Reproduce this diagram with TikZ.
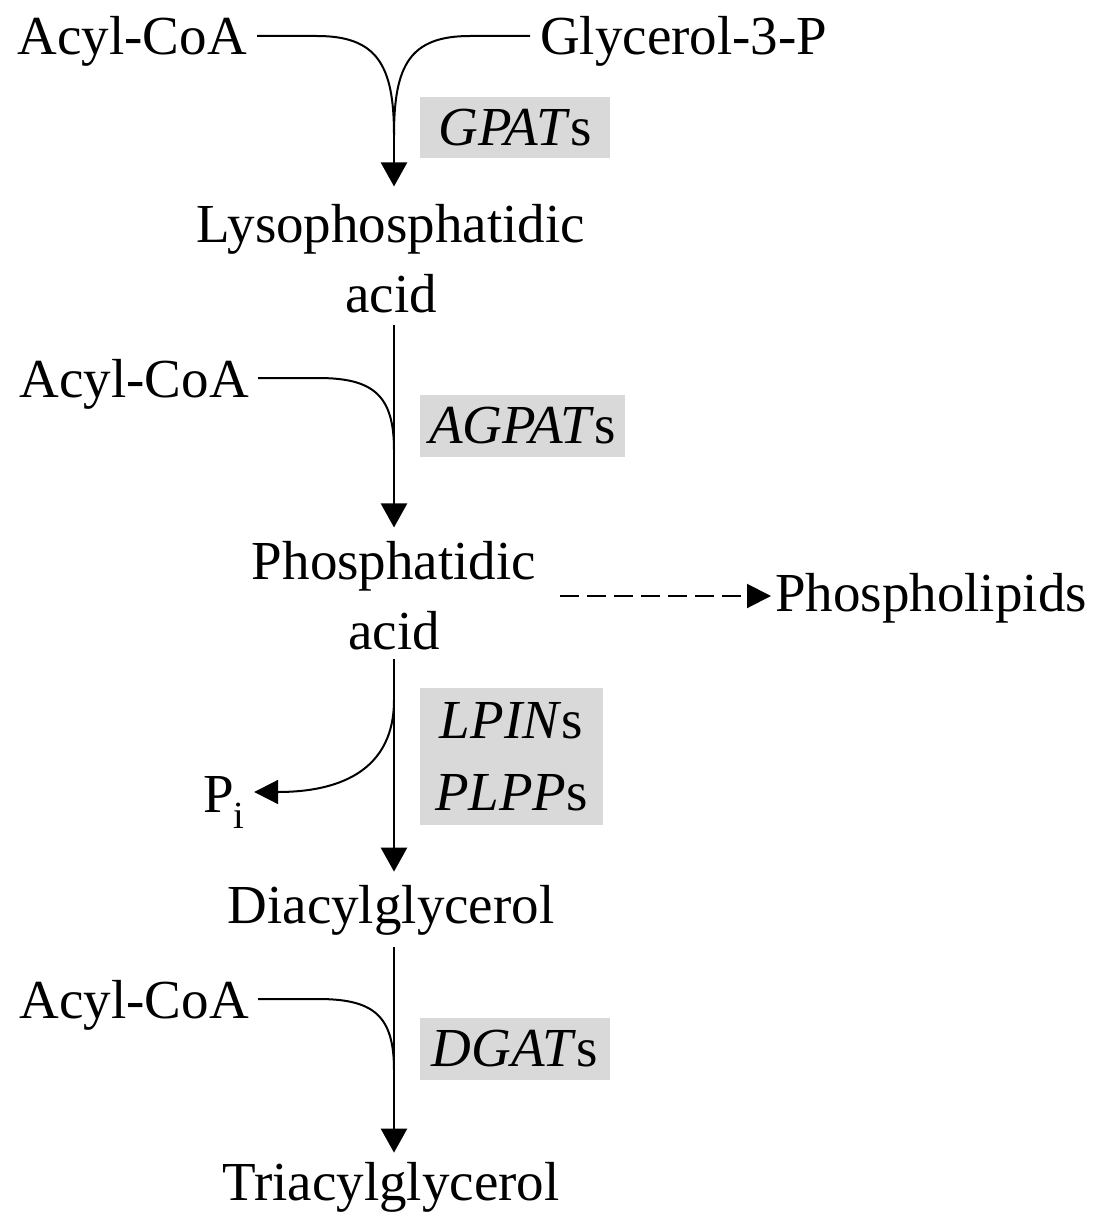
\documentclass[tikz,border=0pt]{standalone}
\usepackage{fontspec}
\setmainfont{Liberation Serif}
\usetikzlibrary{arrows.meta}
\begin{document}
\begin{tikzpicture}[x=1pt,y=-1pt,
    mol/.style={font=\fontsize{55}{70}\selectfont,inner sep=0pt,align=center},
    enz/.style={fill=gray!30,font=\fontsize{55}{72}\selectfont,inner sep=0pt,align=center},
    flow/.style={line width=2.5pt,-{Triangle[length=24pt,width=26pt]}},
    feed/.style={line width=2pt}]
  \useasboundingbox (0,0) rectangle (1102,1225);
  % metabolites
  \node[mol,anchor=base east] (acyl1) at (247,55) {Acyl-CoA};
  \node[mol,anchor=base west] (g3p) at (540,55) {Glycerol-3-P};
  \node[mol] (lpa) at (391,259) {Lysophosphatidic\\acid};
  \node[mol,anchor=base east] (acyl2) at (249,397) {Acyl-CoA};
  \node[mol] (pa) at (394,596) {Phosphatidic\\acid};
  \node[mol,anchor=base west] (pl) at (775,611) {Phospholipids};
  \node[mol,anchor=base west] (pi) at (203,812) {P\textsubscript{i}};
  \node[mol,anchor=base] (dag) at (391,923) {Diacylglycerol};
  \node[mol,anchor=base east] (acyl3) at (249,1018) {Acyl-CoA};
  \node[mol,anchor=base] (tag) at (391,1200) {Triacylglycerol};
  % enzymes
  \node[enz,minimum width=190pt,minimum height=61pt] (gpat) at (515,127.5) {\textit{GPAT}s};
  \node[enz,minimum width=205pt,minimum height=62pt] (agpat) at (522.5,426) {\textit{AGPAT}s};
  \node[enz,minimum width=183pt,minimum height=137pt] (lpin) at (511.5,756.5) {\textit{LPIN}s\\\textit{PLPP}s};
  \node[enz,minimum width=190pt,minimum height=62pt] (dgat) at (515,1049) {\textit{DGAT}s};
  % reactions
  \coordinate (m1) at (394,135);
  \coordinate (m2) at (394,450);
  \coordinate (m3) at (394,700);
  \coordinate (m4) at (394,1070);
  \draw[feed] ([xshift=10pt,yshift=19pt]acyl1.base east) -- ++(60,0) .. controls +(60,0) and +(0,-70) .. (m1);
  \draw[feed] ([xshift=-10pt,yshift=19pt]g3p.base west) -- ++(-60,0) .. controls +(-60,0) and +(0,-70) .. (m1);
  \draw[flow,shorten >=18pt] (m1) -- (m1 |- lpa.north);
  \draw[flow,shorten <=11pt,shorten >=14pt] (lpa.south -| m2) -- (pa.north -| m2);
  \draw[feed] ([xshift=9pt,yshift=19pt]acyl2.base east) -- ++(60,0) .. controls +(55,0) and +(0,-55) .. (m2);
  \draw[flow,shorten <=8pt,shorten >=13pt] (pa.south -| m3) -- (dag.north -| m3);
  \draw[feed,-{Triangle[length=24pt,width=24pt]}] (m3) .. controls +(0,80) and +(70,0) .. ([xshift=9pt,yshift=20pt]pi.base east);
  \draw[flow,shorten <=12pt,shorten >=9pt] (dag.south -| m4) -- (tag.north -| m4);
  \draw[feed] ([xshift=9pt,yshift=19pt]acyl3.base east) -- ++(60,0) .. controls +(55,0) and +(0,-55) .. (m4);
  \draw[feed,dash pattern=on 19pt off 8pt,-{Triangle[length=24pt,width=24pt]},shorten <=24pt,shorten >=4pt] (pa.east) -- (pa.east -| pl.west);
\end{tikzpicture}
\end{document}
